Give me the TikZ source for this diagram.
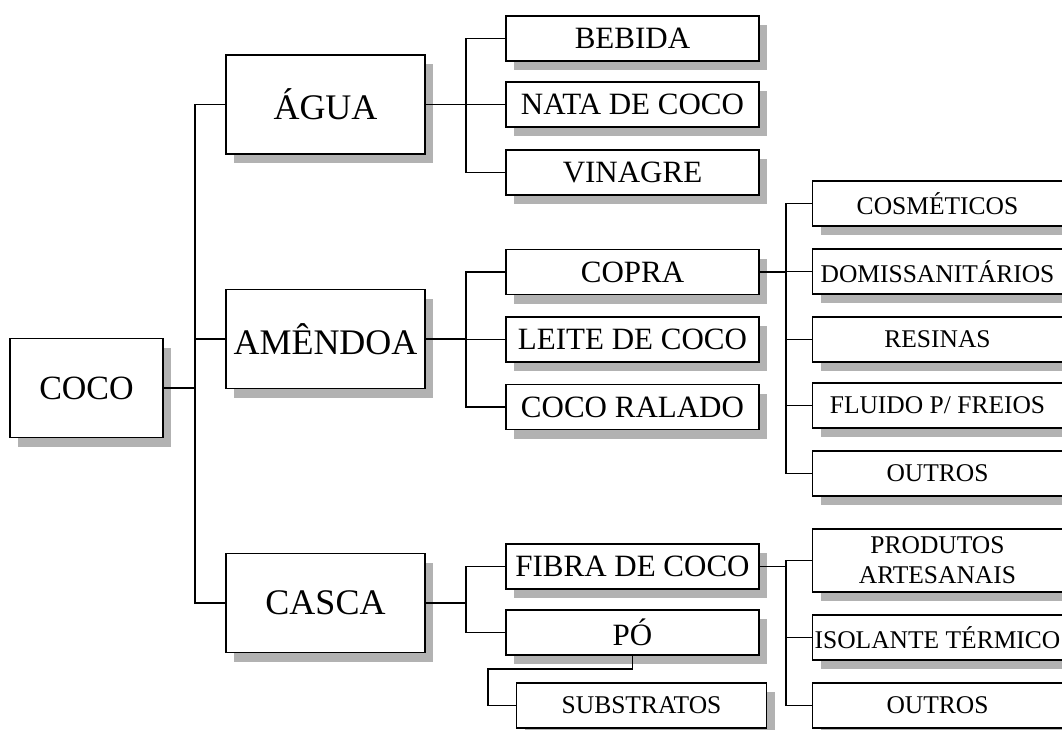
\documentclass[tikz,border=0pt]{standalone}
\usepackage{fontspec}
\setmainfont{Liberation Serif}
\usetikzlibrary{shadows}
\definecolor{shadowgray}{RGB}{178,178,178}
\tikzset{
	box/.style={draw,line width=1.2pt,fill=white,inner sep=0pt,align=center,
		drop shadow={shadow xshift=8pt,shadow yshift=-9pt,fill=shadowgray,opacity=1}},
	bigbox/.style={box,minimum width=199pt,minimum height=99pt,font=\fontsize{36}{42}\selectfont},
	midbox/.style={box,minimum width=253pt,minimum height=45pt,font=\fontsize{31}{36}\selectfont},
	smallbox/.style={box,minimum width=250pt,minimum height=45pt,font=\fontsize{25.5}{30}\selectfont},
	link/.style={line width=1.2pt}
}

\begin{document}
\begin{tikzpicture}[x=1pt,y=-1pt]
				\useasboundingbox (0,0) rectangle (1062,729);
				% raiz e ramos
				\node[bigbox,minimum width=153pt,font=\fontsize{34}{40}\selectfont] (coco) at (86.5,388) {COCO};
				\node[bigbox] (agua) at (325.5,104.5) {ÁGUA};
				\node[bigbox] (amendoa) at (325.5,339) {AMÊNDOA};
				\node[bigbox] (casca) at (325.5,603) {CASCA};
				% produtos
				\node[midbox] (bebida) at (632.5,38.5) {BEBIDA};
				\node[midbox] (nata) at (632.5,104.5) {NATA DE COCO};
				\node[midbox] (vinagre) at (632.5,172.5) {VINAGRE};
				\node[midbox] (copra) at (632.5,272) {COPRA};
				\node[midbox] (leite) at (632.5,339.5) {LEITE DE COCO};
				\node[midbox] (ralado) at (632.5,407) {COCO RALADO};
				\node[midbox] (fibra) at (632.5,566.5) {FIBRA DE COCO};
				\node[midbox] (po) at (632.5,632.5) {PÓ};
				% derivados
				\node[smallbox] (substratos) at (641.5,705.5) {SUBSTRATOS};
				\node[smallbox] (cosmeticos) at (937.5,203.5) {COSMÉTICOS};
				\node[smallbox] (domiss) at (937.5,271.5) {DOMISSANITÁRIOS};
				\node[smallbox] (resinas) at (937.5,339.5) {RESINAS};
				\node[smallbox] (fluido) at (937.5,405.5) {FLUIDO P/ FREIOS};
				\node[smallbox] (outros) at (937.5,473.5) {OUTROS};
				\node[smallbox,minimum height=63pt] (artesanais) at (937.5,560.5) {PRODUTOS\\ARTESANAIS};
				\node[smallbox] (isolante) at (937.5,637.5) {ISOLANTE TÉRMICO};
				\node[smallbox] (outrosb) at (937.5,705.5) {OUTROS};
				% barras
				\coordinate (b0) at (195,0);
				\coordinate (b1) at (466,0);
				\coordinate (b2) at (786,0);
				\coordinate (pj) at (488,669);
				% ligacoes
				\draw[link] (coco.east) -- (coco.east -| b0);
				\draw[link] (agua.west) -- (agua.west -| b0) -- (casca.west -| b0) -- (casca.west);
				\draw[link] (amendoa.west) -- (amendoa.west -| b0);
				\draw[link] (agua.east) -- (agua.east -| b1);
				\draw[link] (bebida.west) -- (bebida.west -| b1) -- (vinagre.west -| b1) -- (vinagre.west);
				\draw[link] (nata.west) -- (nata.west -| b1);
				\draw[link] (amendoa.east) -- (amendoa.east -| b1);
				\draw[link] (copra.west) -- (copra.west -| b1) -- (ralado.west -| b1) -- (ralado.west);
				\draw[link] (leite.west) -- (leite.west -| b1);
				\draw[link] (casca.east) -- (casca.east -| b1);
				\draw[link] (fibra.west) -- (fibra.west -| b1) -- (po.west -| b1) -- (po.west);
				\draw[link] (po.south) |- (pj) |- (substratos.west);
				\draw[link] (copra.east) -- (copra.east -| b2);
				\draw[link] (cosmeticos.west) -- (cosmeticos.west -| b2) -- (outros.west -| b2) -- (outros.west);
				\foreach \n in {domiss,resinas,fluido}
					\draw[link] (\n.west) -- (\n.west -| b2);
				\draw[link] (fibra.east) -- (fibra.east -| b2);
				\draw[link] (artesanais.west) -- (artesanais.west -| b2) -- (outrosb.west -| b2) -- (outrosb.west);
				\draw[link] (isolante.west) -- (isolante.west -| b2);
			\end{tikzpicture}
\end{document}
